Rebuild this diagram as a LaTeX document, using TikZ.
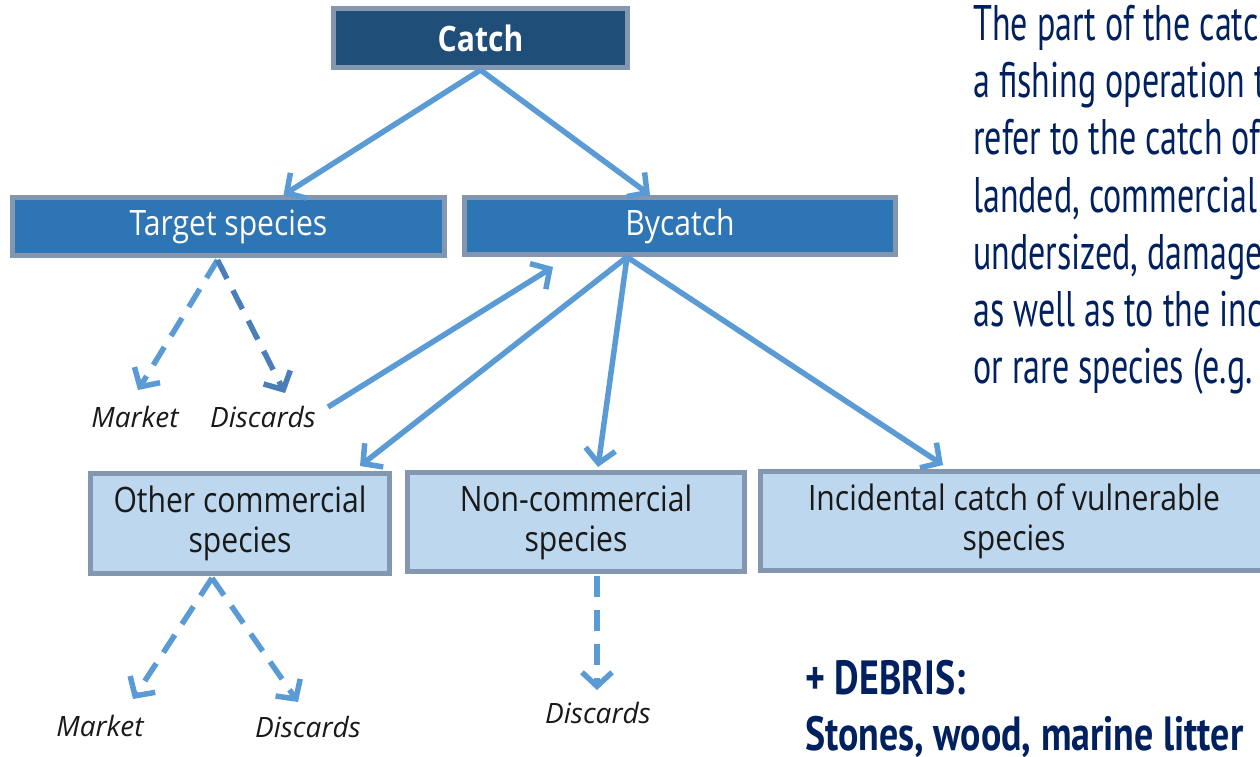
\documentclass[tikz,border=0pt]{standalone}
\usepackage{fontspec}
\setmainfont{Open Sans}
\newfontfamily\boxfont{Open Sans}[FakeStretch=0.86]
\newfontfamily\agency{PT Sans}[FakeStretch=0.68]
\newfontfamily\agencybold{PT Sans Bold}[FakeStretch=0.79]
\usetikzlibrary{arrows.meta}
\definecolor{dkblue}{HTML}{1F4E79}
\definecolor{midblue}{HTML}{2E75B6}
\definecolor{ltblue}{HTML}{BDD7EE}
\definecolor{boxedge}{HTML}{8497B0}
\definecolor{arrowblue}{HTML}{5B9BD5}
\definecolor{arrowdark}{HTML}{4A7EBB}
\definecolor{navy}{HTML}{002060}
\begin{document}
\begin{tikzpicture}[x=1pt,y=-1pt,
  box/.style={draw=boxedge, line width=5pt, rectangle, inner sep=0pt, align=center},
  topbox/.style={box, fill=dkblue, text=white, font=\boxfont\fontsize{35}{38}\selectfont\bfseries},
  midbox/.style={box, fill=midblue, text=white, font=\boxfont\fontsize{35}{38}\selectfont},
  lowbox/.style={box, fill=ltblue, text=black!90, font=\boxfont\fontsize{35}{40}\selectfont},
  lbl/.style={inner sep=0pt, font=\fontsize{28}{32}\selectfont\itshape, text=black!90},
  conn/.style={draw=arrowblue, line width=5.5pt, -{Straight Barb[length=14pt,width=30pt]}},
  dconn/.style={conn, dash pattern=on 21pt off 13pt},
  side/.style={inner sep=0pt, anchor=base west, text=navy, font=\agency\fontsize{50}{57}\selectfont},
  debris/.style={inner sep=0pt, anchor=base west, text=navy, font=\agencybold\fontsize{48}{57}\selectfont}]
\useasboundingbox (0,0) rectangle (1260,756);
\clip (0,0) rectangle (1260,756);

% boxes
\node[topbox, minimum width=294pt, minimum height=59pt] (catch) at (480.5,38) {Catch};
\node[midbox, minimum width=432pt, minimum height=58pt] (target) at (228.5,226.5) {Target species};
\node[midbox, minimum width=431pt, minimum height=57pt] (bycatch) at (680,226) {Bycatch};
\node[lowbox, minimum width=299pt, minimum height=100pt] (other) at (240,523.5) {Other commercial\\species};
\node[lowbox, minimum width=337pt, minimum height=99pt] (noncom) at (576,522) {Non-commercial\\species};
\node[lowbox, minimum width=507pt, minimum height=99pt] (incid) at (1014,521) {Incidental catch of vulnerable\\species};

% labels
\node[lbl] (m1) at (135,417) {Market};
\node[lbl] (d1) at (263,417) {Discards};
\node[lbl] (m2) at (100,726) {Market};
\node[lbl] (d2) at (308,727) {Discards};
\node[lbl] (d3) at (598,713) {Discards};

% solid connectors
\draw[conn] (catch.south) -- ([xshift=55pt]target.north);
\draw[conn] (catch.south) -- ([xshift=-30pt]bycatch.north);
\draw[conn] ([xshift=-53pt]bycatch.south) -- ([xshift=120pt,yshift=5pt]other.north);
\draw[conn] ([xshift=-53pt]bycatch.south) -- ([xshift=22pt,yshift=3pt]noncom.north);
\draw[conn] ([xshift=-53pt]bycatch.south) -- ([xshift=-71pt,yshift=4pt]incid.north);
\draw[conn] ([xshift=12pt,yshift=-1pt]d1.north east) -- ([xshift=-127pt,yshift=-10pt]bycatch.south);

% dashed connectors
\draw[dconn] ([xshift=-11pt,yshift=-2pt]target.south) -- ([xshift=3pt,yshift=16pt]m1.north);
\draw[dconn, draw=arrowdark] ([xshift=-11pt,yshift=-2pt]target.south) -- ([xshift=22pt,yshift=13pt]d1.north);
\draw[dconn] ([xshift=-28pt,yshift=-2pt]other.south) -- ([xshift=33pt,yshift=16pt]m2.north);
\draw[dconn] ([xshift=-28pt,yshift=-2pt]other.south) -- ([xshift=-10pt,yshift=14pt]d2.north);
\draw[dconn] ([xshift=21pt,yshift=-2pt]noncom.south) -- ([xshift=-1pt,yshift=12pt]d3.north);

% side text
\node[side] (t1) at (973,40) {The part of the catch of};
\node[side] (t2) at (973,97) {a fishing operation that};
\node[side] (t3) at (973,154) {refer to the catch of};
\node[side] (t4) at (973,212) {landed, commercial};
\node[side] (t5) at (973,269) {undersized, damaged};
\node[side] (t6) at (973,326) {as well as to the incidental};
\node[side] (t7) at (973,383) {or rare species (e.g.};

\node[debris] (db1) at (805,694) {+ DEBRIS:};
\node[debris] (db2) at (805,750) {Stones, wood, marine litter};
\end{tikzpicture}
\end{document}
